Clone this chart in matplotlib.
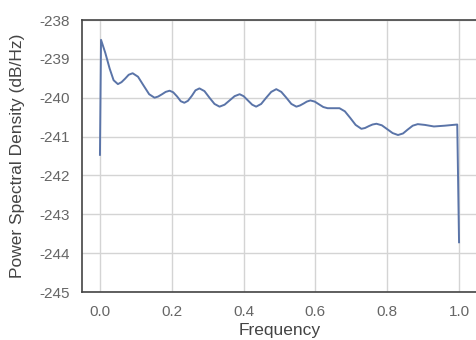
import matplotlib
matplotlib.use("Agg")
import matplotlib.pyplot as plt

# Power spectral density estimate (dB/Hz) vs normalised frequency
freq = [0.0, 0.003, 0.015, 0.027, 0.038, 0.05, 0.06, 0.07, 0.08, 0.091,
        0.106, 0.121, 0.137, 0.152, 0.162, 0.173, 0.183, 0.194, 0.204, 0.215,
        0.225, 0.235, 0.245, 0.256, 0.266, 0.277, 0.291, 0.305, 0.319, 0.333,
        0.347, 0.361, 0.375, 0.389, 0.4, 0.412, 0.424, 0.435, 0.449, 0.463,
        0.477, 0.491, 0.505, 0.519, 0.533, 0.547, 0.557, 0.567, 0.576, 0.586,
        0.598, 0.61, 0.622, 0.634, 0.65, 0.667, 0.682, 0.697, 0.712, 0.728,
        0.738, 0.749, 0.759, 0.77, 0.785, 0.8, 0.815, 0.83, 0.844, 0.857,
        0.871, 0.885, 0.905, 0.93, 0.96, 0.983, 0.995, 1.0]
psd_db = [-241.47, -238.51, -238.85, -239.25, -239.55, -239.65, -239.6, -239.51, -239.41, -239.37,
          -239.46, -239.68, -239.91, -240.0, -239.97, -239.91, -239.85, -239.82, -239.86, -239.97,
          -240.09, -240.13, -240.08, -239.95, -239.81, -239.76, -239.83, -240.0, -240.16, -240.23,
          -240.18, -240.07, -239.96, -239.91, -239.96, -240.07, -240.18, -240.23, -240.16, -240.0,
          -239.85, -239.78, -239.85, -240.0, -240.16, -240.23, -240.2, -240.15, -240.1, -240.07,
          -240.1, -240.17, -240.24, -240.27, -240.27, -240.27, -240.35, -240.52, -240.7, -240.8,
          -240.78, -240.73, -240.69, -240.67, -240.71, -240.81, -240.91, -240.96, -240.92, -240.82,
          -240.72, -240.68, -240.7, -240.74, -240.72, -240.7, -240.69, -243.72]

plt.rcParams['font.family'] = ['Liberation Sans', 'DejaVu Sans']
plt.rcParams['axes.unicode_minus'] = False

fig = plt.figure(figsize=(4.77, 3.4), dpi=100)
ax = fig.add_axes([82 / 477, 48 / 340, 395 / 477, 272 / 340])

ax.plot(freq, psd_db, color='#5a74a8', linewidth=1.4)

ax.set_xlim(-0.05, 1.05)
ax.set_ylim(-245, -238)
ax.set_xticks([0.0, 0.2, 0.4, 0.6, 0.8, 1.0])
ax.set_yticks(range(-245, -237))
ax.grid(True, color='#d4d4d4', linewidth=1)
ax.set_axisbelow(True)
ax.tick_params(length=0, pad=9, labelsize=11, colors='#666666')

for side in ['left', 'top', 'bottom']:
    ax.spines[side].set_color('#444444')
    ax.spines[side].set_linewidth(1.2)
ax.spines['right'].set_visible(False)

ax.set_xlabel('Frequency', fontsize=12.5, color='#444444', labelpad=3)
ax.set_ylabel('Power Spectral Density (dB/Hz)', fontsize=12.5, color='#444444', labelpad=10)

fig.savefig('out.png', dpi=100)
